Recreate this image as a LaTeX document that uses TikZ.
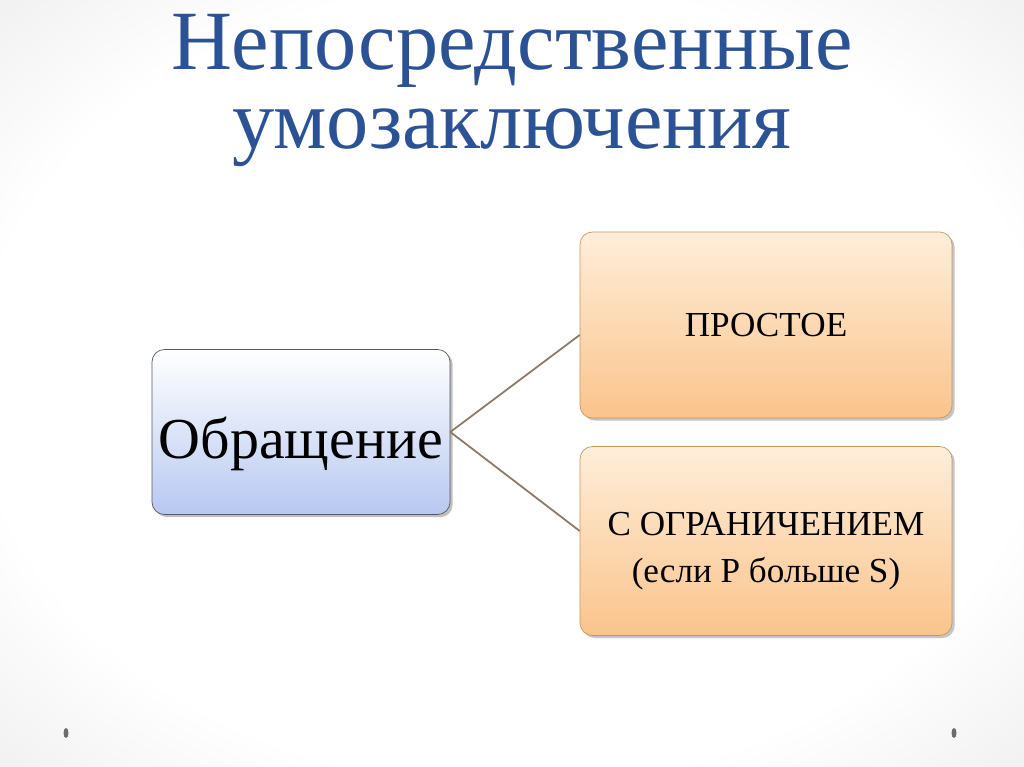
\documentclass[tikz,border=0pt]{standalone}
\usepackage{fontspec}
\setmainfont{Liberation Serif}
\usepackage{tikz}
\usetikzlibrary{positioning,shadows,calc}
\definecolor{titleblue}{RGB}{44,82,150}
\definecolor{boxblue}{RGB}{184,200,240}
\definecolor{boxorange}{RGB}{250,196,140}
\definecolor{paleorange}{RGB}{254,238,218}
\definecolor{orangeline}{RGB}{200,150,95}
\definecolor{linkbrown}{RGB}{140,120,100}
\definecolor{dotgray}{RGB}{110,110,110}
\pgfdeclareradialshading{slidebg}{\pgfpoint{0bp}{0bp}}{color(0bp)=(white); color(26bp)=(white);
  color(50bp)=(black!14); color(72bp)=(black!19)}
\tikzset{
  titletext/.style={text=titleblue, font=\fontsize{48}{48}\selectfont, inner sep=0pt},
  bluebox/.style={draw=black!65, rounded corners=7pt, top color=white, bottom color=boxblue,
    drop shadow={shadow xshift=1.5pt, shadow yshift=-1.5pt, opacity=.5}},
  orangebox/.style={draw=orangeline, rounded corners=7pt, top color=paleorange, bottom color=boxorange,
    minimum width=7.44cm, drop shadow={shadow xshift=1.5pt, shadow yshift=-1.5pt, opacity=.45}},
  linkline/.style={draw=linkbrown, line width=1pt}
}
\begin{document}
\begin{tikzpicture}[x=0.02cm,y=-0.02cm]
    \shade[shading=slidebg] (0,0) rectangle (1024,767);
    \useasboundingbox (0,0) rectangle (1024,767);

    % Title
    \node[titletext, anchor=base] (title1) at (512,70) {Непосредственные};
    \node[titletext, anchor=base] (title2) at (512,149) {умозаключения};

    % Boxes
    \node[bluebox, minimum width=5.96cm, minimum height=3.3cm, font=\fontsize{33}{36}\selectfont,
      text height=30pt, text depth=0.4pt] (obr) at (301,432) {Обращение};
    \node[orangebox, minimum height=3.72cm, font=\fontsize{20}{24}\selectfont,
      text height=13.6pt, text depth=0pt] (prost) at (766,325) {ПРОСТОЕ};
    \node[orangebox, minimum height=3.78cm, align=center, font=\fontsize{20}{27.3}\selectfont,
      text height=48pt, text depth=0.2pt] (ogran) at (766,541) {С ОГРАНИЧЕНИЕМ\\(если Р больше S)};

    % Links
    \draw[linkline] (obr.east) -- ([yshift=-0.2cm]prost.west);
    \draw[linkline] (obr.east) -- ([yshift=0.2cm]ogran.west);

    % Dots
    \fill[dotgray] (66,733) ellipse [x radius=0.05cm, y radius=0.1cm];
    \fill[dotgray] (954,733) ellipse [x radius=0.05cm, y radius=0.1cm];
\end{tikzpicture}
\end{document}
